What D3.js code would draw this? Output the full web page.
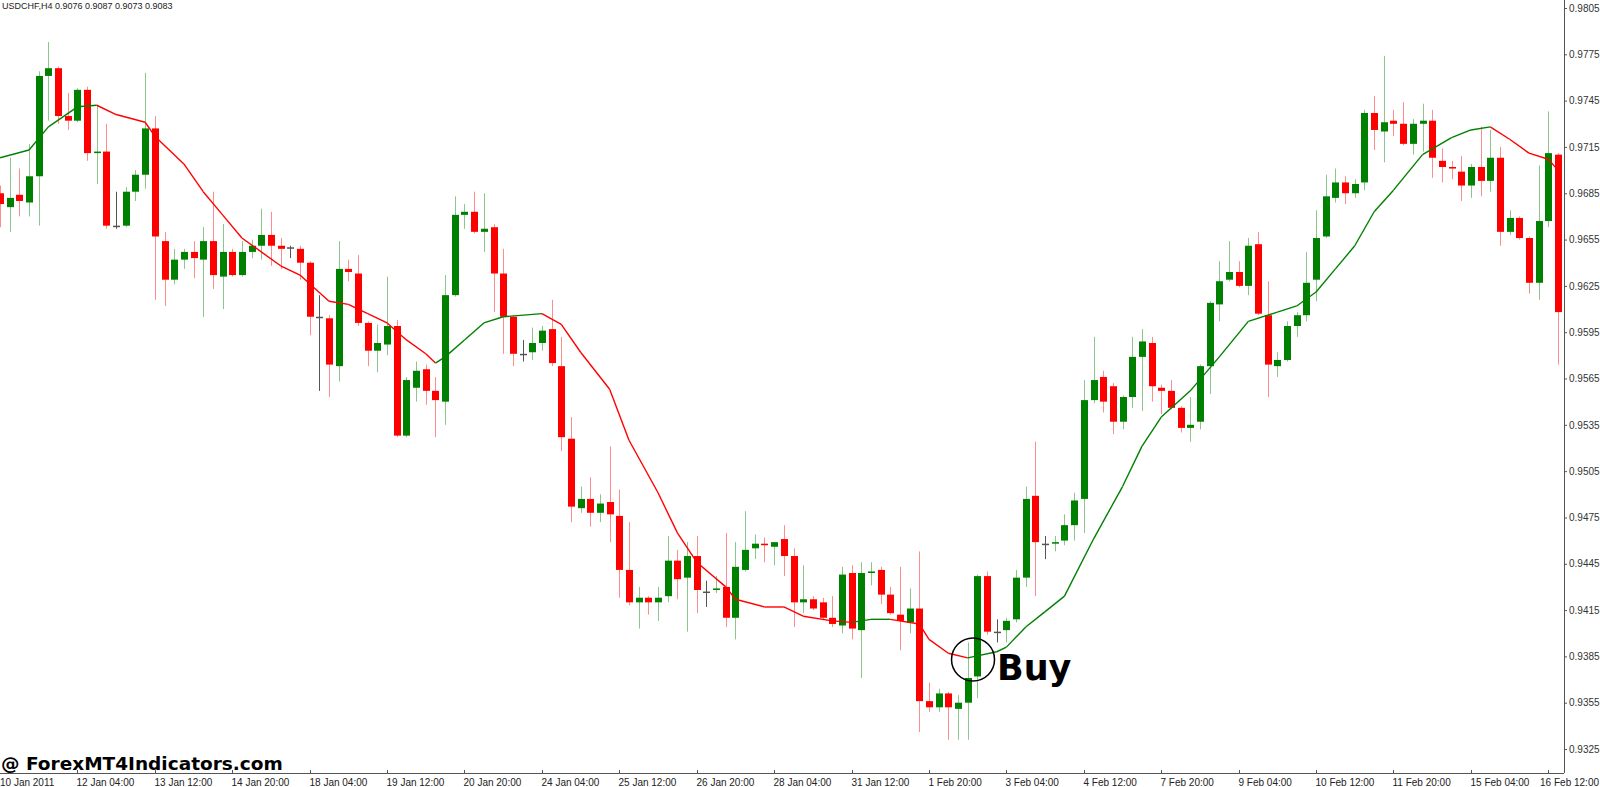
<!DOCTYPE html>
<html><head><meta charset="utf-8">
<script src="https://cdn.jsdelivr.net/npm/d3@7"></script>
<style>body{margin:0;background:#fff;overflow:hidden}svg{display:block}</style>
</head><body>
<svg id="c" width="1600" height="787"></svg>
<script>
const opens  = [9685,9676,9684,9679,9696,9761,9766,9735,9732,9752,9711,9712,9664,9664,9686,9697,9727,9654,9629,9642,9647,9642,9654,9631,9647,9632,9647,9651,9658,9651,9650,9649,9640,9605,9604,9573,9636,9633,9601,9583,9587,9599,9528,9559,9571,9557,9550,9619,9671,9673,9660,9663,9633,9605,9581,9582,9588,9597,9573,9526,9481,9487,9478,9485,9476,9441,9420,9423,9420,9424,9447,9436,9450,9427,9428,9430,9410,9441,9455,9458,9456,9461,9450,9420,9422,9420,9410,9405,9439,9402,9439,9441,9425,9412,9407,9416,9356,9352,9361,9351,9355,9372,9437,9401,9402,9409,9436,9489,9458,9458,9460,9470,9487,9551,9566,9560,9537,9553,9579,9588,9559,9557,9546,9533,9537,9573,9613,9629,9634,9625,9652,9606,9573,9577,9599,9606,9629,9657,9682,9692,9685,9692,9737,9725,9732,9730,9717,9730,9732,9706,9702,9699,9690,9702,9693,9708,9660,9669,9656,9627,9667,9710];
const highs  = [9690,9708,9701,9717,9764,9783,9767,9750,9753,9754,9742,9730,9686,9689,9700,9763,9735,9660,9649,9649,9654,9663,9686,9665,9649,9654,9655,9675,9673,9656,9651,9651,9641,9619,9606,9654,9642,9645,9602,9600,9631,9603,9566,9576,9574,9566,9632,9683,9678,9686,9685,9665,9649,9606,9590,9598,9599,9616,9592,9540,9495,9501,9490,9521,9493,9472,9430,9424,9430,9463,9454,9459,9463,9434,9437,9465,9459,9479,9464,9462,9459,9470,9455,9444,9424,9423,9424,9443,9444,9446,9446,9443,9430,9443,9429,9453,9368,9364,9362,9360,9394,9438,9440,9409,9410,9441,9495,9524,9463,9463,9477,9491,9564,9592,9570,9562,9554,9592,9597,9592,9561,9564,9547,9553,9574,9615,9641,9654,9641,9656,9660,9628,9582,9602,9608,9647,9674,9697,9701,9696,9694,9739,9748,9774,9739,9744,9733,9743,9739,9714,9706,9709,9704,9728,9726,9715,9674,9670,9657,9703,9738,9711];
const lows   = [9663,9660,9670,9670,9664,9732,9730,9726,9731,9706,9691,9662,9662,9663,9680,9688,9616,9612,9626,9636,9630,9605,9623,9610,9631,9631,9643,9642,9638,9636,9643,9629,9593,9557,9553,9563,9628,9599,9573,9569,9580,9527,9527,9550,9548,9527,9535,9618,9662,9659,9647,9608,9581,9573,9576,9577,9583,9573,9518,9472,9478,9469,9472,9459,9423,9418,9403,9412,9408,9420,9422,9401,9413,9417,9426,9404,9396,9440,9448,9446,9444,9437,9404,9413,9415,9409,9404,9400,9396,9371,9431,9419,9412,9389,9400,9336,9349,9349,9331,9331,9331,9358,9399,9394,9394,9407,9430,9424,9448,9453,9457,9460,9465,9549,9543,9529,9532,9546,9544,9550,9542,9545,9530,9524,9532,9555,9602,9628,9624,9619,9606,9553,9566,9576,9592,9602,9615,9656,9679,9678,9682,9687,9713,9705,9722,9716,9710,9712,9695,9692,9694,9680,9682,9683,9686,9651,9658,9655,9620,9616,9663,9574];
const closes = [9678,9682,9680,9696,9761,9766,9735,9732,9752,9711,9712,9664,9664,9686,9697,9727,9657,9629,9642,9647,9643,9654,9632,9647,9632,9647,9651,9658,9651,9649,9650,9640,9605,9605,9574,9636,9634,9601,9583,9588,9599,9528,9564,9570,9557,9551,9619,9671,9673,9660,9662,9633,9605,9581,9581,9588,9596,9575,9527,9482,9487,9478,9484,9477,9441,9420,9423,9420,9423,9447,9435,9450,9428,9427,9429,9410,9443,9454,9458,9457,9459,9450,9420,9422,9416,9410,9406,9438,9403,9439,9440,9425,9413,9408,9416,9356,9352,9361,9352,9355,9371,9437,9401,9401,9408,9436,9487,9459,9458,9459,9470,9486,9551,9564,9550,9537,9553,9579,9589,9560,9557,9546,9533,9535,9573,9614,9628,9634,9625,9651,9607,9574,9577,9599,9606,9627,9656,9683,9692,9685,9691,9737,9726,9731,9730,9717,9730,9732,9708,9702,9701,9690,9702,9693,9708,9660,9669,9656,9627,9667,9711,9608];
// moving average: bar index and value (pips)
const maBars = [0,3,5,8,10,12,15,16,19,21,23,25,27,29,31,34,36,38,40,42,44,45,46,48,50,52,56,58,60,63,65,68,70,72,75,76,79,81,83,86,88,90,92,95,96,98,100,103,104,106,108,110,113,116,118,120,123,126,129,132,134,136,138,140,142,144,147,150,152,154,156,158,160,161];
const maVals = [9708,9713,9728,9741,9742,9736,9731,9722,9704,9686,9671,9656,9647,9638,9632,9615,9613,9607,9601,9590,9581,9575,9579,9590,9601,9605,9607,9600,9582,9558,9525,9491,9465,9446,9430,9422,9417,9417,9411,9408,9407,9409,9409,9406,9396,9387,9384,9388,9391,9404,9414,9424,9461,9495,9521,9540,9557,9579,9602,9608,9612,9621,9636,9651,9673,9687,9710,9721,9726,9728,9720,9711,9707,9700];
const timeLabels = ["10 Jan 2011","12 Jan 04:00","13 Jan 12:00","14 Jan 20:00","18 Jan 04:00","19 Jan 12:00","20 Jan 20:00","24 Jan 04:00","25 Jan 12:00","26 Jan 20:00","28 Jan 04:00","31 Jan 12:00","1 Feb 20:00","3 Feb 04:00","4 Feb 12:00","7 Feb 20:00","9 Feb 04:00","10 Feb 12:00","11 Feb 20:00","15 Feb 04:00","16 Feb 12:00"];
const priceTicks = [0.9805,0.9775,0.9745,0.9715,0.9685,0.9655,0.9625,0.9595,0.9565,0.9535,0.9505,0.9475,0.9445,0.9415,0.9385,0.9355,0.9325];
const buyBar = 99, buyPrice = 0.9383;

const svg = d3.select("#c");
const x = d3.scaleLinear().domain([0,161]).range([0,1558]);
const y = d3.scaleLinear().domain([0.9325,0.9805]).range([749,8]);
const P = v => v/10000;
const axisX = 1564, axisY = 773;
const FONT = "Liberation Sans, Arial, sans-serif";

const bars = opens.map((o,i)=>({i,o:P(o),h:P(highs[i]),l:P(lows[i]),c:P(closes[i])}));
const col = d => d.c>d.o ? "#008000" : d.c<d.o ? "#ff0000" : "#555";
const wcol = d => d.c>d.o ? "rgba(0,128,0,0.45)" : d.c<d.o ? "rgba(255,0,0,0.45)" : "#555";

const g = svg.append("g");
g.selectAll("line.w").data(bars).enter().append("line")
  .attr("x1",d=>Math.round(x(d.i))+0.5).attr("x2",d=>Math.round(x(d.i))+0.5)
  .attr("y1",d=>y(d.h)).attr("y2",d=>y(d.l)).attr("stroke",wcol).attr("stroke-width",1);
g.selectAll("rect.b").data(bars).enter().append("rect")
  .attr("x",d=>Math.round(x(d.i))-3).attr("width",7)
  .attr("y",d=>Math.min(y(d.o),y(d.c)))
  .attr("height",d=>Math.max(1.5,Math.abs(y(d.o)-y(d.c))))
  .attr("fill",col);

let prevCol = "#008000";
for(let k=1;k<maBars.length;k++){
  const a=maVals[k-1], b=maVals[k];
  const c = b>a ? "#008000" : b<a ? "#ff0000" : prevCol;
  prevCol = c;
  svg.append("line").attr("x1",x(maBars[k-1])).attr("y1",y(P(a)))
    .attr("x2",x(maBars[k])).attr("y2",y(P(b))).attr("stroke",c).attr("stroke-width",1.4);
}

svg.append("line").attr("x1",axisX+0.5).attr("x2",axisX+0.5).attr("y1",0).attr("y2",axisY).attr("stroke","#555");
svg.append("line").attr("x1",0).attr("x2",axisX).attr("y1",axisY+0.5).attr("y2",axisY+0.5).attr("stroke","#555");
const ya = d3.axisRight(y).tickValues(priceTicks).tickFormat(d3.format(".4f")).tickSize(3).tickPadding(2);
const yg = svg.append("g").attr("transform",`translate(${axisX},0)`).call(ya);
yg.select(".domain").remove();
yg.selectAll("text").attr("font-family",FONT).attr("font-size","10px").attr("fill","#333");
yg.selectAll("line").attr("stroke","#555");

const tg = svg.append("g");
timeLabels.forEach((t,k)=>{
  const xx = Math.round(x(k*8))+0.5;
  const last = k===timeLabels.length-1;
  if(k>0) tg.append("line").attr("x1",xx).attr("x2",xx).attr("y1",axisY-3).attr("y2",axisY).attr("stroke","#555");
  tg.append("text").attr("x",k===0?0:last?1599:xx-1).attr("y",786).text(t)
    .attr("text-anchor",last?"end":"start")
    .attr("font-family",FONT).attr("font-size","10px").attr("fill","#222");
});

svg.append("text").attr("x",2).attr("y",9).text("USDCHF,H4  0.9076 0.9087 0.9073 0.9083")
  .attr("font-family",FONT).attr("font-size","9px").attr("fill","#222");
svg.append("text").attr("x",1).attr("y",770).text("@ ForexMT4Indicators.com")
  .attr("font-family","DejaVu Sans, sans-serif").attr("font-weight","bold").attr("font-size","18.5px").attr("fill","#000");

svg.append("circle").attr("cx",x(buyBar)+15).attr("cy",y(buyPrice)).attr("r",21.5)
  .attr("fill","none").attr("stroke","#000").attr("stroke-width",1.5);
svg.append("text").attr("x",x(buyBar)+39).attr("y",y(buyPrice)+21).text("Buy")
  .attr("font-family","DejaVu Sans, sans-serif").attr("font-weight","bold").attr("font-size","35px").attr("fill","#000");
</script>
</body></html>
